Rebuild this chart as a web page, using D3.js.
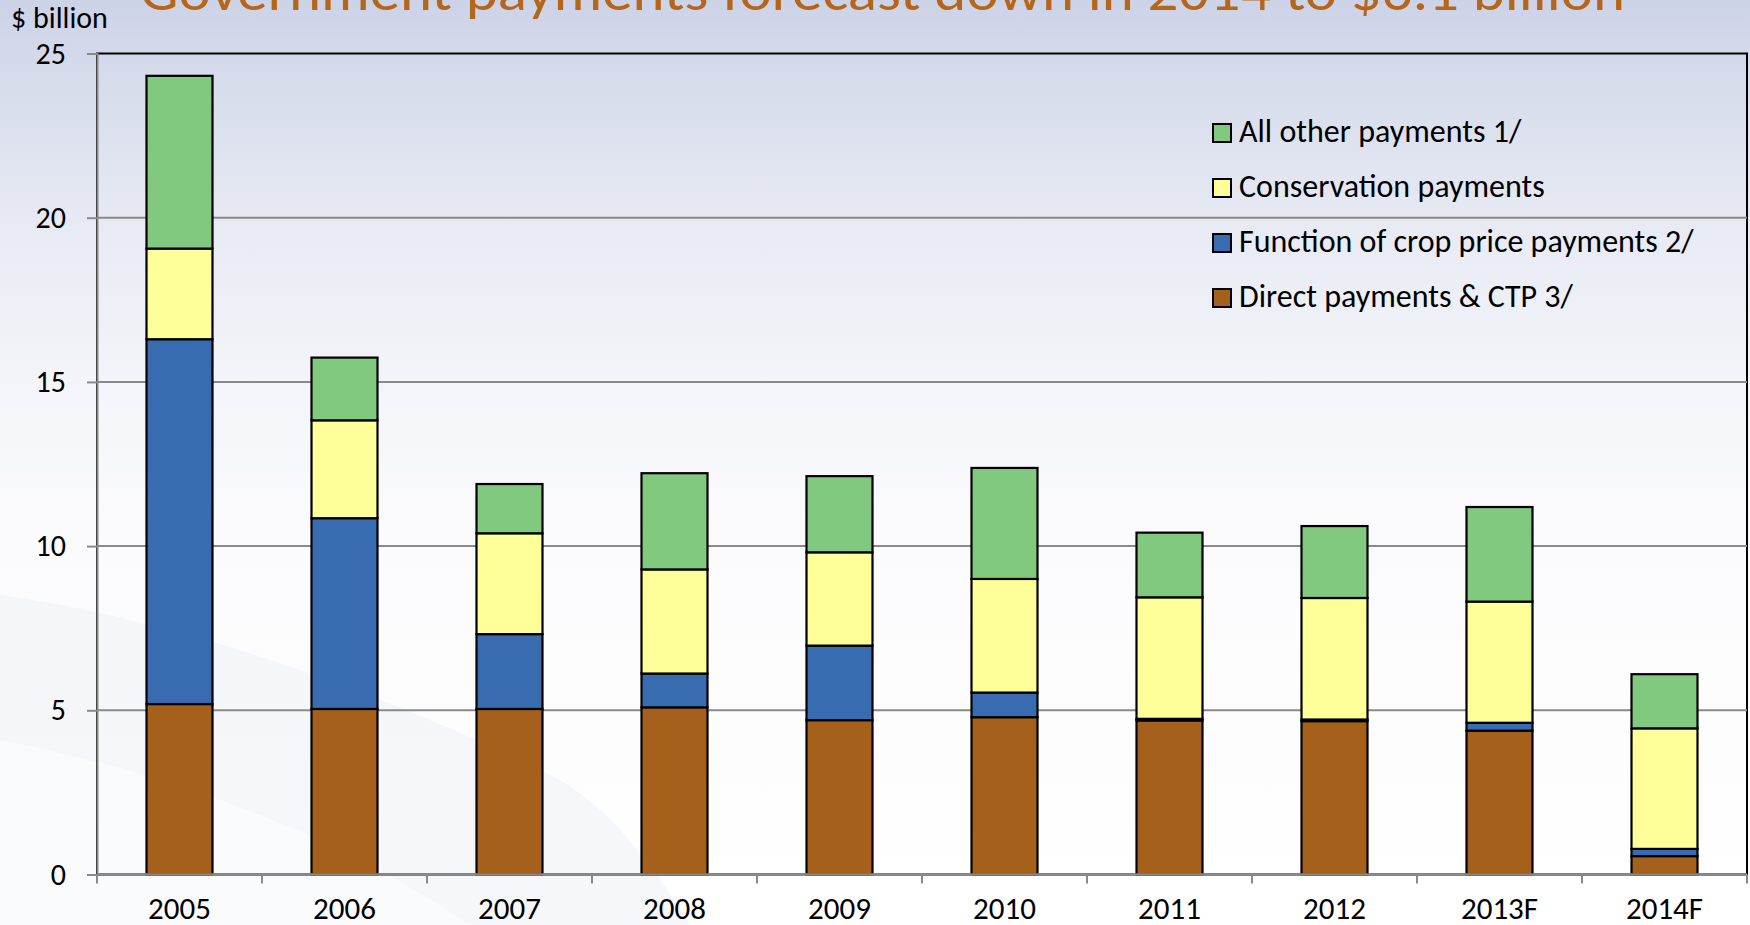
<!DOCTYPE html>
<html>
<head>
<meta charset="utf-8">
<script src="https://cdn.jsdelivr.net/npm/d3@7"></script>
<style>
  html, body { margin: 0; padding: 0; background: #ffffff; overflow: hidden; }
  svg { display: block; }
  text { font-family: Carlito, Calibri, Lato, "Open Sans", sans-serif; }
</style>
</head>
<body>
<svg id="chart" width="1750" height="925"></svg>
<script>
// Years shown on the category axis
const years = ["2005", "2006", "2007", "2008", "2009", "2010", "2011", "2012", "2013F", "2014F"];

// Payment components, $ billion (stacked bottom to top)
const directCTP     = [5.19, 5.04, 5.04, 5.09, 4.70, 4.79, 4.69, 4.67, 4.38, 0.56];
const cropPrice     = [11.11, 5.81, 2.28, 1.03, 2.27, 0.75, 0.05, 0.05, 0.24, 0.22];
const conservation  = [2.76, 2.98, 3.07, 3.17, 2.84, 3.46, 3.70, 3.70, 3.69, 3.67];
const allOther      = [5.26, 1.91, 1.50, 2.93, 2.32, 3.38, 1.97, 2.19, 2.88, 1.65];

const seriesKeys  = ["direct", "crop", "conservation", "other"];
const seriesNames = ["Direct payments & CTP 3/", "Function of crop price payments 2/", "Conservation payments", "All other payments 1/"];
const seriesColors = ["#A5601C", "#386BAF", "#FFFF99", "#80C97F"];

const yTicks = [0, 5, 10, 15, 20, 25];

const titleText = "Government payments forecast down in 2014 to $6.1 billion";
const unitLabel = "$ billion";

const rows = years.map((y, i) => ({
  year: y,
  direct: directCTP[i],
  crop: cropPrice[i],
  conservation: conservation[i],
  other: allOther[i]
}));

const svg = d3.select("#chart");
const W = 1750, H = 925;

// ---- slide background ----
const defs = svg.append("defs");
const bg = defs.append("linearGradient").attr("id", "bgGrad")
  .attr("x1", 0).attr("y1", 0).attr("x2", 0).attr("y2", 1);
[[0, "#CDD3E7"], [0.1, "#D8DDEC"], [0.25, "#E8EBF4"], [0.42, "#F4F5FA"], [0.58, "#FBFBFD"], [1, "#FFFFFF"]]
  .forEach(([o, c]) => bg.append("stop").attr("offset", o).attr("stop-color", c));
svg.append("rect").attr("width", W).attr("height", H).attr("fill", "url(#bgGrad)");

// faint decorative swoosh in the lower left
svg.append("path")
  .attr("d", "M0,595 C180,620 380,690 560,780 C610,810 650,860 690,925 L0,925 Z")
  .attr("fill", "#EDF0F6").attr("opacity", 0.55);
svg.append("path")
  .attr("d", "M0,740 C160,770 330,830 470,925 L0,925 Z")
  .attr("fill", "#FFFFFF").attr("opacity", 0.45);

// ---- plot geometry ----
const x0 = 97, x1 = 1747, yTop = 53.5, yBot = 874.5;

const x = d3.scaleBand().domain(years).range([x0, x1]).paddingInner(0.6).paddingOuter(0.3);
const xCat = d3.scaleBand().domain(years).range([x0, x1]).padding(0);
const y = d3.scaleLinear().domain([0, 25]).range([yBot, yTop]);

// plot-area frame (top and right edges visible)
svg.append("rect")
  .attr("x", x0).attr("y", y(25)).attr("width", x1 - x0).attr("height", yBot - y(25))
  .attr("fill", "none").attr("stroke", "#000").attr("stroke-width", 2);

// gridlines
svg.append("g").selectAll("line").data(yTicks.filter(t => t > 0 && t < 25)).join("line")
  .attr("x1", x0).attr("x2", x1)
  .attr("y1", d => y(d)).attr("y2", d => y(d))
  .attr("stroke", "#8A8A8A").attr("stroke-width", 2);

// y axis
const yAxis = svg.append("g").attr("transform", `translate(${x0},0)`)
  .call(d3.axisLeft(y).tickValues(yTicks).tickSize(10).tickPadding(21).tickFormat(d3.format("d")));
yAxis.select(".domain").attr("stroke", "#8A8A8A").attr("stroke-width", 2);
yAxis.selectAll(".tick line").attr("stroke", "#8A8A8A").attr("stroke-width", 2);
yAxis.selectAll(".tick text").attr("font-size", 30).attr("fill", "#000")
  .attr("font-family", "Carlito, Calibri, Lato, sans-serif");

// ---- stacked bars ----
const stack = d3.stack().keys(seriesKeys);
const layers = stack(rows);

svg.append("g").selectAll("g").data(layers).join("g")
  .attr("fill", (d, i) => seriesColors[i])
  .selectAll("rect").data(d => d).join("rect")
  .attr("x", d => x(d.data.year))
  .attr("width", x.bandwidth())
  .attr("y", d => y(d[1]))
  .attr("height", d => y(d[0]) - y(d[1]))
  .attr("stroke", "#000").attr("stroke-width", 2.2);

// x axis line with ticks between categories
const xAxisG = svg.append("g");
xAxisG.append("line").attr("x1", x0).attr("x2", x1).attr("y1", yBot).attr("y2", yBot)
  .attr("stroke", "#8A8A8A").attr("stroke-width", 2.5);
const boundaries = years.map(d => xCat(d)).concat([x1]);
xAxisG.selectAll("line.tk").data(boundaries).join("line").attr("class", "tk")
  .attr("x1", d => d).attr("x2", d => d).attr("y1", yBot).attr("y2", yBot + 9)
  .attr("stroke", "#8A8A8A").attr("stroke-width", 2);
xAxisG.selectAll("text").data(years).join("text")
  .attr("x", d => xCat(d) + xCat.bandwidth() / 2)
  .attr("y", 919)
  .attr("text-anchor", "middle")
  .attr("font-size", 31).attr("fill", "#000")
  .text(d => d);

// unit label
svg.append("text").attr("x", 11).attr("y", 28).attr("font-size", 30).attr("fill", "#000").text(unitLabel);

// title
svg.append("text").attr("x", 140).attr("y", 10)
  .attr("font-size", 56).attr("fill", "#B5661D")
  .attr("textLength", 1485).attr("lengthAdjust", "spacingAndGlyphs")
  .text(titleText);

// ---- legend (top entry = top of stack) ----
const legendOrder = [3, 2, 1, 0];
const lg = svg.append("g").attr("transform", "translate(1213,0)");
legendOrder.forEach((si, r) => {
  const base = 142 + r * 55;
  lg.append("rect").attr("x", 0).attr("y", base - 18).attr("width", 18).attr("height", 18)
    .attr("fill", seriesColors[si]).attr("stroke", "#000").attr("stroke-width", 2);
  lg.append("text").attr("x", 26).attr("y", base).attr("font-size", 32).attr("fill", "#000")
    .text(seriesNames[si]);
});
</script>
</body>
</html>
